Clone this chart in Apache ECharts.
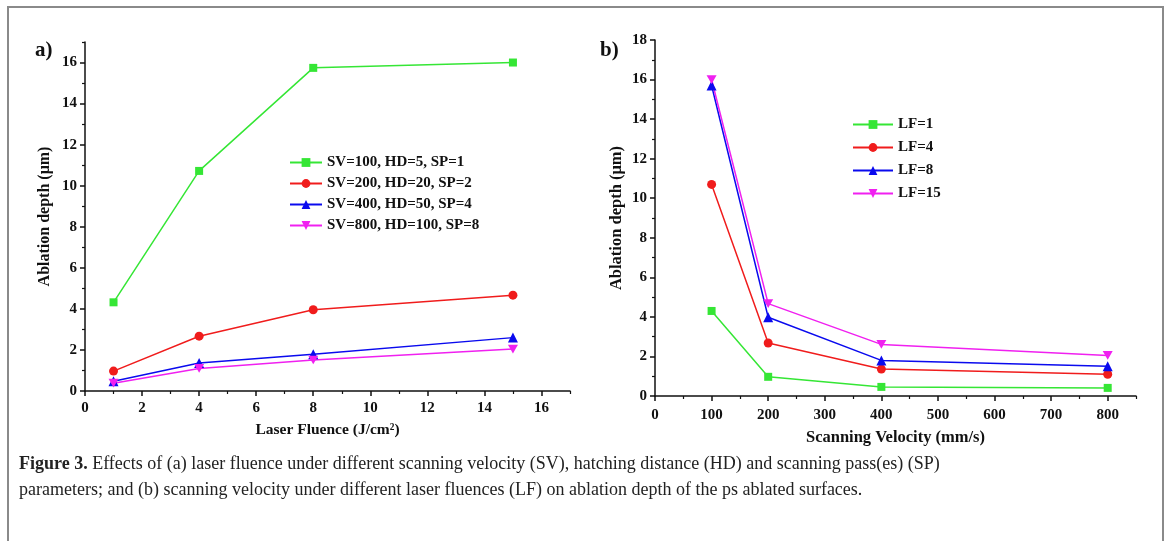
<!DOCTYPE html>
<html>
<head>
<meta charset="utf-8">
<script src="https://cdn.jsdelivr.net/npm/echarts@6/dist/echarts.min.js"></script>
<style>
    html, body { margin: 0; padding: 0; background: #fff; }
    #fig { width: 1171px; height: 541px; }
</style>
</head>
<body>
<div id="fig"></div>
<script>
// panel a) x = laser fluence (J/cm2), one line per SV/HD/SP setting
const fluence = [1, 4, 8, 15];
const sv100 = [4.32, 10.72, 15.74, 16.0];
const sv200 = [0.97, 2.67, 3.96, 4.67];
const sv400 = [0.47, 1.36, 1.79, 2.6];
const sv800 = [0.38, 1.1, 1.51, 2.04];
const namesA = ['SV=100, HD=5, SP=1', 'SV=200, HD=20, SP=2', 'SV=400, HD=50, SP=4', 'SV=800, HD=100, SP=8'];

// panel b) x = scanning velocity (mm/s), one line per laser fluence
const velocity = [100, 200, 400, 800];
const lf1 = [4.3, 0.97, 0.46, 0.41];
const lf4 = [10.7, 2.68, 1.36, 1.1];
const lf8 = [15.7, 3.98, 1.8, 1.51];
const lf15 = [16.0, 4.67, 2.61, 2.05];
const namesB = ['LF=1', 'LF=4', 'LF=8', 'LF=15'];

// tick labels
const fluenceTicks = [0, 2, 4, 6, 8, 10, 12, 14, 16];
const fluenceMinor = [1, 3, 5, 7, 9, 11, 13, 15, 17];
const depthTicksA = [0, 2, 4, 6, 8, 10, 12, 14, 16];
const depthMinorA = [1, 3, 5, 7, 9, 11, 13, 15, 17];
const velocityTicks = [0, 100, 200, 300, 400, 500, 600, 700, 800];
const velocityMinor = [50, 150, 250, 350, 450, 550, 650, 750, 850];
const depthTicksB = [0, 2, 4, 6, 8, 10, 12, 14, 16, 18];
const depthMinorB = [1, 3, 5, 7, 9, 11, 13, 15, 17];

const colors = ['#35e635', '#f01c1c', '#0a0aee', '#f020f0'];
const symbols = ['rect', 'circle', 'triangle', 'path://M0,0L10,0L5,8.7Z'];
const symbolSizes = [8, 9, 10, 10];

const FONT = '"Liberation Serif", "Times New Roman", serif';

let fig = echarts.init(document.getElementById('fig'));

function mainAxis(gridIndex, pos, max, ticks, name, nameGap, nameSize, margin) {
    return {
        type: 'value', gridIndex: gridIndex, position: pos,
        min: 0, max: max, interval: ticks[1] - ticks[0],
        name: name, nameLocation: 'middle', nameGap: nameGap,
        nameTextStyle: { fontFamily: FONT, fontWeight: 'bold', fontSize: nameSize, color: '#111' },
        axisLine: { show: true, onZero: false, lineStyle: { color: '#111', width: 1.5 } },
        axisTick: { show: true, length: 5, customValues: ticks, lineStyle: { color: '#111', width: 1.5 } },
        axisLabel: { customValues: ticks, margin: margin, fontFamily: FONT, fontWeight: 'bold', fontSize: 15, color: '#111' },
        splitLine: { show: false }
    };
}

function minorAxis(gridIndex, pos, max, minor) {
    return {
        type: 'value', gridIndex: gridIndex, position: pos,
        min: 0, max: max,
        axisLine: { show: false, onZero: false },
        axisTick: { show: true, length: 3, customValues: minor, lineStyle: { color: '#111', width: 1.2 } },
        axisLabel: { show: false },
        splitLine: { show: false }
    };
}

function lineSeries(name, i, xs, ys, axis) {
    return {
        name: name, type: 'line',
        xAxisIndex: axis, yAxisIndex: axis,
        data: xs.map(function (x, k) { return [x, ys[k]]; }),
        color: colors[i],
        symbol: symbols[i], symbolSize: symbolSizes[i], symbolKeepAspect: true,
        lineStyle: { width: 1.5 },
        itemStyle: { color: colors[i] },
        animation: false
    };
}

let option = {
    backgroundColor: '#fff',
    grid: [
        { left: 85, top: 42, width: 485, height: 349 },
        { left: 655, top: 40, width: 481, height: 356 }
    ],
    xAxis: [
        mainAxis(0, 'bottom', 17, fluenceTicks, 'Laser Fluence (J/cm²)', 31, 15.5, 10),
        mainAxis(1, 'bottom', 850, velocityTicks, 'Scanning Velocity (mm/s)', 33, 16.5, 12),
        minorAxis(0, 'bottom', 17, fluenceMinor),
        minorAxis(1, 'bottom', 850, velocityMinor)
    ],
    yAxis: [
        mainAxis(0, 'left', 17, depthTicksA, 'Ablation depth (μm)', 32, 16, 8),
        mainAxis(1, 'left', 18, depthTicksB, 'Ablation depth (μm)', 30, 16.5, 8),
        minorAxis(0, 'left', 17, depthMinorA),
        minorAxis(1, 'left', 18, depthMinorB)
    ],
    legend: [
        {
            data: namesA, orient: 'vertical', left: 284, top: 150,
            itemWidth: 32, itemHeight: 11, itemGap: 6,
            textStyle: { fontFamily: FONT, fontWeight: 'bold', fontSize: 15, color: '#111' }
        },
        {
            data: namesB, orient: 'vertical', left: 847, top: 112,
            itemWidth: 40, itemHeight: 11, itemGap: 8,
            textStyle: { fontFamily: FONT, fontWeight: 'bold', fontSize: 15, color: '#111' }
        }
    ],
    graphic: [
        { type: 'rect', shape: { x: 8, y: 7, width: 1155, height: 560 }, style: { fill: 'none', stroke: '#8a8a8a', lineWidth: 2 } },
        { type: 'text', left: 35, top: 40, style: { text: 'a)', font: 'bold 21px ' + FONT, fill: '#111' } },
        { type: 'text', left: 600, top: 40, style: { text: 'b)', font: 'bold 21px ' + FONT, fill: '#111' } },
        {
            type: 'text', left: 19, top: 451,
            style: {
                text: '{b|Figure 3.} Effects of (a) laser fluence under different scanning velocity (SV), hatching distance (HD) and scanning pass(es) (SP)\nparameters; and (b) scanning velocity under different laser fluences (LF) on ablation depth of the ps ablated surfaces.',
                font: '18px ' + FONT, fill: '#222', lineHeight: 26,
                rich: { b: { font: 'bold 18px ' + FONT, fill: '#222', lineHeight: 26 } }
            }
        }
    ],
    series: [
        lineSeries(namesA[0], 0, fluence, sv100, 0),
        lineSeries(namesA[1], 1, fluence, sv200, 0),
        lineSeries(namesA[2], 2, fluence, sv400, 0),
        lineSeries(namesA[3], 3, fluence, sv800, 0),
        lineSeries(namesB[0], 0, velocity, lf1, 1),
        lineSeries(namesB[1], 1, velocity, lf4, 1),
        lineSeries(namesB[2], 2, velocity, lf8, 1),
        lineSeries(namesB[3], 3, velocity, lf15, 1)
    ]
};

fig.setOption(option);
</script>
</body>
</html>
